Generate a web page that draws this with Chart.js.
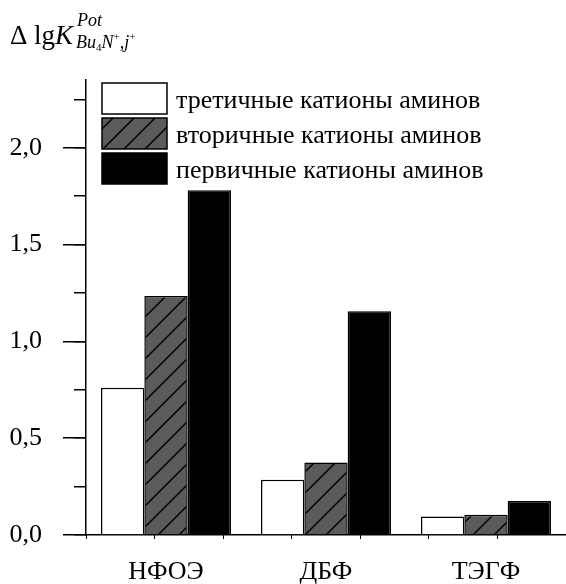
<!DOCTYPE html>
<html>
<head>
<meta charset="utf-8">
<script src="https://cdn.jsdelivr.net/npm/chart.js@4/dist/chart.umd.min.js"></script>
<style>
  html, body { margin: 0; padding: 0; background: #fff; }
  #chartReport { width: 566px; height: 584px; }
</style>
</head>
<body>
<div id="chartReport"><canvas id="myChart" width="566" height="584"></canvas></div>
<script>
// data
const categories = ['НФОЭ', 'ДБФ', 'ТЭГФ'];
const seriesLabels = ['третичные катионы аминов', 'вторичные катионы аминов', 'первичные катионы аминов'];
const tertiary = [0.76, 0.285, 0.095];
const secondary = [1.235, 0.375, 0.105];
const primary = [1.78, 1.155, 0.175];
const yMin = 0;
const yMax = 2.35;
const yMajorStep = 0.5;
const yMinorStep = 0.25;

const FONT = '"Liberation Serif", "Times New Roman", serif';

// hatch for the secondary amines
function makeHatch() {
  const s = 21;
  const c = document.createElement('canvas');
  c.width = s; c.height = s;
  const g = c.getContext('2d');
  g.fillStyle = '#5b5b5b';
  g.fillRect(0, 0, s, s);
  g.strokeStyle = '#000';
  g.lineWidth = 1.5;
  g.beginPath();
  g.moveTo(-2, s + 2); g.lineTo(s + 2, -2);
  g.moveTo(-2, 2); g.lineTo(2, -2);
  g.moveTo(s - 2, s + 2); g.lineTo(s + 2, s - 2);
  g.stroke();
  return g.createPattern(c, 'repeat');
}
const hatch = makeHatch();

const fills = ['#ffffff', hatch, '#000000'];

// legend + axis title drawn in the top-left, like the original
const extrasPlugin = {
  id: 'extras',
  afterDraw(chart) {
    const ctx = chart.ctx;
    ctx.save();
    // legend
    const lx = 102, ly = 83, bw = 65, bh = 31, step = 35;
    chart.data.datasets.forEach((ds, i) => {
      const y = ly + i * step;
      ctx.fillStyle = ds.backgroundColor;
      ctx.fillRect(lx, y, bw, bh);
      ctx.lineWidth = 1.5;
      ctx.strokeStyle = '#000';
      ctx.strokeRect(lx, y, bw, bh);
      ctx.fillStyle = '#000';
      ctx.font = '26px ' + FONT;
      ctx.textBaseline = 'alphabetic';
      ctx.textAlign = 'left';
      ctx.fillText(ds.label, 176, y + 25);
    });

    // y title: Δ lgK^Pot_{Bu4N+,j+}
    ctx.fillStyle = '#000';
    ctx.textBaseline = 'alphabetic';
    let x = 10;
    ctx.font = '27px ' + FONT;
    ctx.fillText('Δ lg', x, 44);
    x += ctx.measureText('Δ lg').width;
    ctx.font = 'italic 27px ' + FONT;
    ctx.fillText('K', x, 44);
    x += ctx.measureText('K').width + 3;
    ctx.font = 'italic 18px ' + FONT;
    ctx.fillText('Pot', x + 1, 26);
    const parts = [
      ['Bu', 'italic 18px', 0],
      ['4', '11px', 3],
      ['N', 'italic 18px', 0],
      ['+', '11px', -8],
      [',', 'italic 18px', 0],
      ['j', 'italic 18px', 0],
      ['+', '11px', -8],
    ];
    parts.forEach(([t, f, dy]) => {
      ctx.font = f + ' ' + FONT;
      ctx.fillText(t, x, 48 + dy);
      x += ctx.measureText(t).width;
    });
    ctx.restore();
  }
};

const ctx = document.getElementById('myChart');
const chart = new Chart(ctx, {
  type: 'bar',
  data: {
    labels: categories,
    datasets: [
      { label: seriesLabels[0], data: tertiary, backgroundColor: fills[0] },
      { label: seriesLabels[1], data: secondary, backgroundColor: fills[1] },
      { label: seriesLabels[2], data: primary, backgroundColor: fills[2] },
    ].map(ds => Object.assign(ds, {
      borderColor: '#000',
      borderWidth: 1.5,
      categoryPercentage: 0.8125,
      barPercentage: 1.0,
      xAxisID: 'x',
      yAxisID: 'y',
    })),
  },
  options: {
    responsive: false,
    animation: false,
    devicePixelRatio: 1,
    layout: { padding: { top: 80, left: 0, right: 0, bottom: 0 } },
    scales: {
      x: {
        type: 'category',
        position: 'bottom',
        weight: 1,
        offset: true,
        grid: { display: false, drawTicks: false },
        border: { display: true, color: '#000', width: 1.5 },
        ticks: { color: '#000', font: { family: FONT, size: 26 }, padding: 22, maxRotation: 0 },
        afterFit: s => { s.height = 49; },
      },
      xTicks: {
        type: 'linear',
        position: 'bottom',
        weight: 0,
        min: 0,
        max: 6,
        grid: { drawOnChartArea: false, tickLength: 4, color: '#000', lineWidth: 1 },
        border: { display: false },
        ticks: { display: false, stepSize: 1 },
        afterFit: s => { s.height = 0; },
      },
      y: {
        position: 'left',
        weight: 1,
        min: yMin,
        max: yMax,
        grid: { drawOnChartArea: false, tickLength: 23, color: '#000', lineWidth: 1.5 },
        border: { display: true, color: '#000', width: 1.5 },
        ticks: {
          stepSize: yMajorStep,
          includeBounds: false,
          padding: 21,
          color: '#000',
          font: { family: FONT, size: 26 },
          callback: v => v.toFixed(1).replace('.', ','),
        },
        afterFit: s => { s.width = 86; },
      },
      yMinor: {
        position: 'left',
        weight: 0,
        min: yMin,
        max: yMax,
        grid: { drawOnChartArea: false, tickLength: 12, color: '#000', lineWidth: 1.5 },
        border: { display: false },
        ticks: { display: false, stepSize: yMinorStep, includeBounds: false },
        afterFit: s => { s.width = 0; },
      },
    },
    plugins: {
      legend: { display: false },
      title: { display: false },
      tooltip: { enabled: false },
    },
  },
  plugins: [extrasPlugin],
});
</script>
</body>
</html>
